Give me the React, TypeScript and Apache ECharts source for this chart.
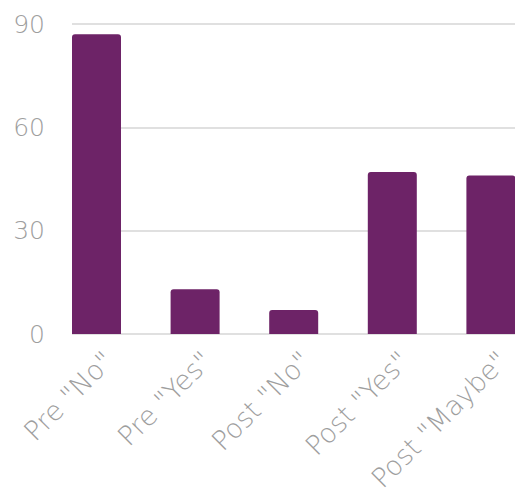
import React, { useEffect, useRef } from "react";
import * as echarts from "echarts";

const categories = ['Pre "No"', 'Pre "Yes"', 'Post "No"', 'Post "Yes"', 'Post "Maybe"'];
const values = [87, 13, 7, 47, 46];
const yTicks = [0, 30, 60, 90];

const FONT = "DejaVu Sans";
const LABEL_COLOR = "#9e9e9e";
const W = 560;

export default function App() {
  const ref = useRef<HTMLDivElement>(null);
  useEffect(() => {
    if (!ref.current) return;
    const chart = echarts.init(ref.current, undefined, { renderer: "svg" });
    const yBase = {
      type: "value",
      min: yTicks[0],
      max: yTicks[yTicks.length - 1],
      interval: 30,
    };
    chart.setOption({
      animation: false,
      grid: [
        { left: 72, right: W - 515, top: 24, bottom: 167 },
        { left: 47.2, right: W - 540.2, top: 24, bottom: 167 },
        { left: 59.2, right: W - 552.2, top: 24, bottom: 167 },
      ],
      xAxis: [
        { type: "category", gridIndex: 0, data: categories, show: false },
        { type: "category", gridIndex: 1, data: categories, show: false },
        {
          type: "category",
          gridIndex: 2,
          data: categories,
          axisLine: { show: false },
          axisTick: { show: false },
          axisLabel: {
            interval: 0,
            rotate: 45,
            margin: 22,
            fontFamily: FONT,
            fontWeight: 200,
            fontSize: 27,
            color: LABEL_COLOR,
          },
        },
      ],
      yAxis: [
        {
          ...yBase,
          gridIndex: 0,
          axisLine: { show: false },
          axisTick: { show: false },
          splitLine: { lineStyle: { color: "#e0e0e0", width: 2 } },
          axisLabel: {
            margin: 27,
            fontFamily: FONT,
            fontWeight: 200,
            fontSize: 25,
            color: LABEL_COLOR,
          },
        },
        { ...yBase, gridIndex: 1, show: false, splitLine: { show: false } },
        { ...yBase, gridIndex: 2, show: false, splitLine: { show: false } },
      ],
      series: [
        {
          type: "bar",
          xAxisIndex: 1,
          yAxisIndex: 1,
          data: values,
          barWidth: 49,
          itemStyle: { color: "#6d2367", borderRadius: [3, 3, 0, 0] },
        },
      ],
    });
    return () => chart.dispose();
  }, []);
  return (
    <div
      ref={ref}
      style={{ position: "fixed", left: 0, top: 0, width: W, height: 501, background: "#fff" }}
    />
  );
}
